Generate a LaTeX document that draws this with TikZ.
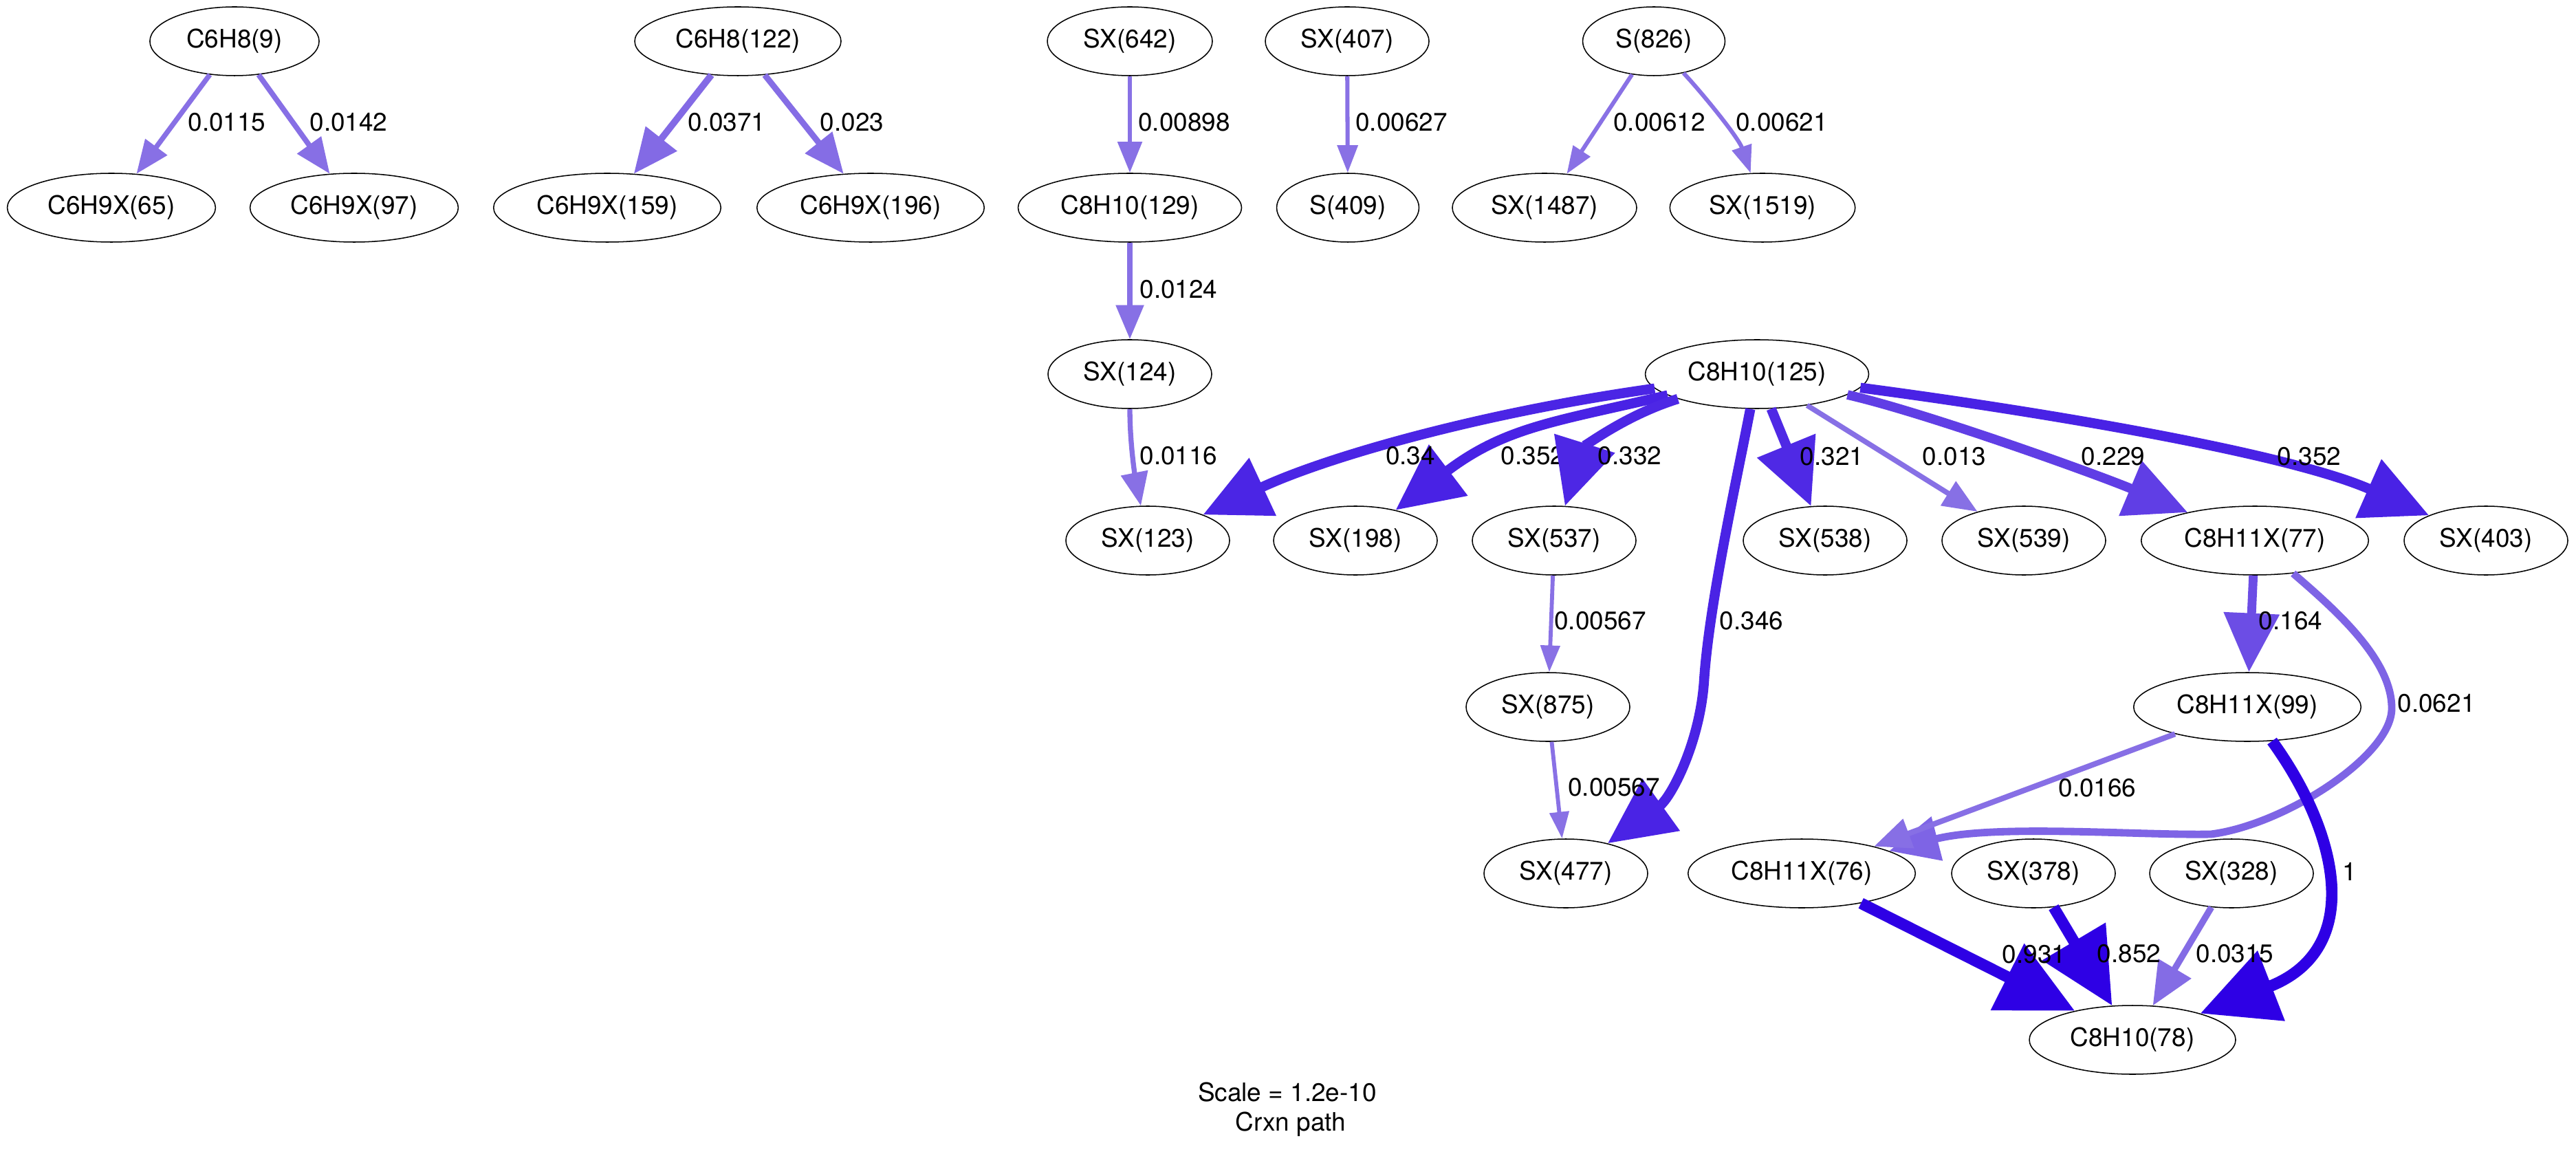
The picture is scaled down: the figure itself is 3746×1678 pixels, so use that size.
\documentclass[tikz,border=0pt]{standalone}
\usepackage{fontspec}
\setmainfont{TeX Gyre Heros}
\usetikzlibrary{arrows.meta,shapes.geometric}

\tikzset{
  species/.style={draw=black, line width=0.55pt, ellipse, inner sep=0pt,
    minimum height=36pt, font=\fontsize{13.3}{16}\selectfont},
  flab/.style={inner sep=0pt, font=\fontsize{13.3}{16}\selectfont},
  % width, tip size and colour (hue 0.7, brightness 0.9) follow from the flux ratio
  flux/.style={/utils/exec={%
      \pgfmathsetmacro\fxw{2+1.7384*log10(#1/0.005)}%
      \pgfmathsetmacro\fxs{min(1,#1+0.5)}%
      \pgfmathsetmacro\fxL{6.65*\fxw}%
      \pgfmathsetmacro\fxW{7.18*\fxw-5.1}%
      \pgfmathsetmacro\fxr{0.9*(1-0.8*\fxs)}%
      \pgfmathsetmacro\fxg{0.9*(1-\fxs)}%
      \definecolor{fxc}{rgb}{\fxr,\fxg,0.9}},
    line width=\fxw pt, color=fxc,
    -{Triangle[length=\fxL pt,width=\fxW pt]}},
}

\begin{document}
\begin{tikzpicture}[x=0.36pt,y=-0.36pt]
\fill[white] (0,0) rectangle (3746,1678);
\useasboundingbox (0,0) rectangle (3746,1678);

% species
\node[species, minimum width=88.6pt] (s9)    at (341,60)   {C6H8(9)};
\node[species, minimum width=109pt]  (s65)   at (162,302)  {C6H9X(65)};
\node[species, minimum width=109pt]  (s97)   at (515,302)  {C6H9X(97)};
\node[species, minimum width=108pt]  (s122)  at (1073,60)  {C6H8(122)};
\node[species, minimum width=119pt]  (s159)  at (883,302)  {C6H9X(159)};
\node[species, minimum width=119pt]  (s196)  at (1266,302) {C6H9X(196)};
\node[species, minimum width=86.4pt] (s642)  at (1643,60)  {SX(642)};
\node[species, minimum width=117pt]  (s129)  at (1643,302) {C8H10(129)};
\node[species, minimum width=85.7pt] (s407)  at (1959,60)  {SX(407)};
\node[species, minimum width=74.5pt] (s409)  at (1960,302) {S(409)};
\node[species, minimum width=74.5pt] (s826)  at (2405,60)  {S(826)};
\node[species, minimum width=96.5pt] (s1487) at (2246,302) {SX(1487)};
\node[species, minimum width=97pt]   (s1519) at (2563,302) {SX(1519)};
\node[species, minimum width=85.7pt] (s124)  at (1643,544) {SX(124)};
\node[species, minimum width=117pt]  (s125)  at (2555,544) {C8H10(125)};
\node[species, minimum width=85.7pt] (s123)  at (1669,786) {SX(123)};
\node[species, minimum width=85.7pt] (s198)  at (1971,786) {SX(198)};
\node[species, minimum width=85.7pt] (s537)  at (2260,786) {SX(537)};
\node[species, minimum width=85.7pt] (s538)  at (2654,786) {SX(538)};
\node[species, minimum width=85.7pt] (s539)  at (2943,786) {SX(539)};
\node[species, minimum width=119pt]  (s77)   at (3279,786) {C8H11X(77)};
\node[species, minimum width=85.7pt] (s403)  at (3615,786) {SX(403)};
\node[species, minimum width=85.7pt] (s875)  at (2251,1028) {SX(875)};
\node[species, minimum width=119pt]  (s99)   at (3268,1028) {C8H11X(99)};
\node[species, minimum width=85.7pt] (s477)  at (2277,1270) {SX(477)};
\node[species, minimum width=119pt]  (s76)   at (2620,1270) {C8H11X(76)};
\node[species, minimum width=85.7pt] (s378)  at (2957,1270) {SX(378)};
\node[species, minimum width=85.7pt] (s328)  at (3245,1270) {SX(328)};
\node[species, minimum width=108pt]  (s78)   at (3101,1512) {C8H10(78)};

% flux connectors
\draw[flux=0.0115] (s9) -- (s65);
\draw[flux=0.0142] (s9) -- (s97);
\draw[flux=0.0371] (s122) -- (s159);
\draw[flux=0.023] (s122) -- (s196);
\draw[flux=0.00898] (s642) -- (s129);
\draw[flux=0.00627] (s407) -- (s409);
\draw[flux=0.00612] (s826) -- (s1487);
\draw[flux=0.00621] (s826) .. controls (2475,135) and (2528,200) .. (s1519);
\draw[flux=0.0124] (s129) -- (s124);
\draw[flux=0.0116] (s124) .. controls (1643,650) and (1652,700) .. (s123);

\draw[flux=0.352] (s125) .. controls (2263,613) and (2190,620) .. (s198);
\node[flab] (l12) at (2229,663) {0.352};
\draw[flux=0.34] (s125) .. controls (2155,600) and (1930,664) .. (s123);
\draw[flux=0.332] (s125) .. controls (2360,605) and (2302,652) .. (s537);
\draw[flux=0.321] (s125) -- (s538);
\draw[flux=0.013] (s125) -- (s539);
\draw[flux=0.229] (s125) .. controls (2800,600) and (3050,690) .. (s77);
\draw[flux=0.352] (s125) .. controls (2980,600) and (3330,660) .. (s403);
\draw[flux=0.00567] (s537) -- (s875);
\draw[flux=0.00567] (s875) -- (s477);
\draw[flux=0.346] (s125) .. controls (2525,700) and (2485,880) .. (2478,990)
  .. controls (2472,1080) and (2430,1160) .. (s477);

\draw[flux=0.164] (s77) -- (s99);
\draw[flux=0.0621] (s77) .. controls (3400,890) and (3478,960) .. (3478,1030)
  .. controls (3478,1100) and (3320,1200) .. (3215,1213)
  .. controls (3110,1215) and (2900,1198) .. (s76);
\draw[flux=0.0166] (s99) -- (s76);
\draw[flux=0.852] (s378) -- (s78);
\draw[flux=0.931] (s76) -- (s78);
\draw[flux=0.0315] (s328) -- (s78);
\draw[flux=1] (s99) .. controls (3400,1210) and (3440,1380) .. (s78);

% flux labels
\node[flab] (l1) at (330,178) {0.0115};
\node[flab] (l2) at (507,178) {0.0142};
\node[flab] (l3) at (1057,178) {0.0371};
\node[flab] (l4) at (1239,178) {0.023};
\node[flab] (l5) at (1722,178) {0.00898};
\node[flab] (l6) at (2038,178) {0.00627};
\node[flab] (l7) at (2413,178) {0.00612};
\node[flab] (l8) at (2591,178) {0.00621};
\node[flab] (l9) at (1714,421) {0.0124};
\node[flab] (l10) at (1714,663) {0.0116};
\node[flab] (l11) at (2051,663) {0.34};
\node[flab] (l13) at (2370,663) {0.332};
\node[flab] (l14) at (2664,664) {0.321};
\node[flab] (l15) at (2842,664) {0.013};
\node[flab] (l16) at (3073,664) {0.229};
\node[flab] (l17) at (3358,664) {0.352};
\node[flab] (l18) at (2547,903) {0.346};
\node[flab] (l19) at (2327,903) {0.00567};
\node[flab] (l20) at (2347,1145) {0.00567};
\node[flab] (l21) at (3331,903) {0.164};
\node[flab] (l22) at (3543,1023) {0.0621};
\node[flab] (l23) at (3050,1146) {0.0166};
\node[flab] (l24) at (3417,1267) {1};
\node[flab] (l25) at (2958,1388) {0.931};
\node[flab] (l26) at (3096,1387) {0.852};
\node[flab] (l27) at (3250,1387) {0.0315};

% caption
\node[flab] (scale) at (1872,1588) {Scale = 1.2e-10};
\node[flab] (title) at (1877,1635) {Crxn path};
\end{tikzpicture}
\end{document}
